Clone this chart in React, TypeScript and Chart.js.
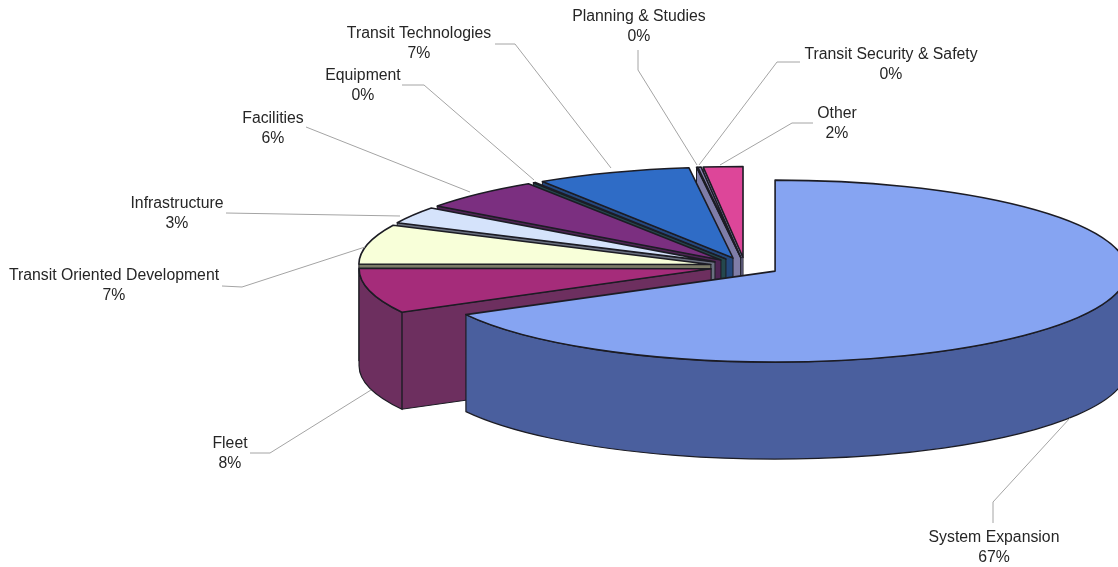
import React, { useEffect, useRef } from "react";
import { Chart, registerables } from "chart.js";

Chart.register(...registerables);

// Budget shares, clockwise from twelve o'clock.
const categories = [
  "System Expansion",
  "Fleet",
  "Transit Oriented Development",
  "Infrastructure",
  "Facilities",
  "Equipment",
  "Transit Technologies",
  "Planning & Studies",
  "Transit Security & Safety",
  "Other",
];
const shares = [67, 8, 7, 3, 5.7, 0.1, 7.1, 0.05, 0.15, 1.8];
const percentLabels = ["67%", "8%", "7%", "3%", "6%", "0%", "7%", "0%", "0%", "2%"];

const topColors = [
  "#86a4f2", "#a52c7a", "#f8ffd9", "#d5e3fb", "#7b2f80",
  "#2f6f78", "#2f6cc6", "#7f7da8", "#8b88b8", "#dd4699",
];
const sideColors = [
  "#4a5f9e", "#6d2f5f", "#7c7c68", "#6a7080", "#4f2555",
  "#24484e", "#24487e", "#7f7da8", "#8b88b8", "#8b88b8",
];

// Label centres and the leader polyline of each slice.
const labelCentres: [number, number][] = [
  [994, 538], [230, 444], [114, 276], [177, 204], [273, 119],
  [363, 76], [419, 34], [639, 17], [891, 55], [837, 114],
];
const leaders: [number, number][][] = [
  [[1070, 418], [993, 502], [993, 523]],
  [[371, 390], [270, 453], [250, 453]],
  [[365, 247], [242, 287], [222, 286]],
  [[400, 216], [226, 213]],
  [[470, 192], [306, 127]],
  [[534, 180], [424, 85], [402, 85]],
  [[611, 168], [515, 44], [495, 44]],
  [[697, 165], [638, 70], [638, 50]],
  [[699, 165], [777, 62], [800, 62]],
  [[720, 165], [792, 123], [813, 123]],
];

const PIE_X = 745;
const PIE_Y = 266.5;
const RADIUS = 352;
const TILT = 0.2585;
const EXPLODE = 35;
const DEPTH = 97;
const OUTLINE = "#1c1c24";
const FONT = '15.8px "Liberation Sans", Arial, sans-serif';

const apexOf = (arc: any) => {
  const mid = (arc.startAngle + arc.endAngle) / 2;
  return {
    x: PIE_X + Math.cos(mid) * EXPLODE,
    y: PIE_Y + Math.sin(mid) * EXPLODE * TILT,
  };
};

const rimPoint = (apex: { x: number; y: number }, angle: number) => ({
  x: apex.x + Math.cos(angle) * RADIUS,
  y: apex.y + Math.sin(angle) * RADIUS * TILT,
});

function drawCutFace(ctx: CanvasRenderingContext2D, apex: any, angle: number, fill: string) {
  const p = rimPoint(apex, angle);
  ctx.beginPath();
  ctx.moveTo(apex.x, apex.y);
  ctx.lineTo(p.x, p.y);
  ctx.lineTo(p.x, p.y + DEPTH);
  ctx.lineTo(apex.x, apex.y + DEPTH);
  ctx.closePath();
  ctx.fillStyle = fill;
  ctx.fill();
  ctx.lineWidth = 1;
  ctx.strokeStyle = OUTLINE;
  ctx.stroke();
}

function drawRimWall(ctx: CanvasRenderingContext2D, apex: any, arc: any, fill: string) {
  const from = Math.max(arc.startAngle, 0);
  const to = Math.min(arc.endAngle, Math.PI);
  if (from >= to) return;
  ctx.beginPath();
  ctx.ellipse(apex.x, apex.y, RADIUS, RADIUS * TILT, 0, from, to);
  ctx.ellipse(apex.x, apex.y + DEPTH, RADIUS, RADIUS * TILT, 0, to, from, true);
  ctx.closePath();
  ctx.fillStyle = fill;
  ctx.fill();
  ctx.lineWidth = 1.2;
  ctx.strokeStyle = OUTLINE;
  ctx.stroke();
}

// Extrudes the slices downward, then paints their squashed tops with the arc elements.
const tiltedPie = {
  id: "tiltedPie",
  beforeDatasetDraw(chart: any) {
    const { ctx } = chart;
    const arcs = chart.getDatasetMeta(0).data;
    ctx.save();
    for (let i = arcs.length - 1; i >= 0; i--) {
      const arc = arcs[i];
      const apex = apexOf(arc);
      if (i > 0) drawCutFace(ctx, apex, arc.startAngle, sideColors[i]);
      drawRimWall(ctx, apex, arc, sideColors[i]);
    }
    arcs.forEach((arc: any) => {
      const apex = apexOf(arc);
      ctx.save();
      ctx.translate(apex.x, apex.y);
      ctx.scale(1, TILT);
      ctx.translate(-arc.x, -arc.y);
      arc.draw(ctx);
      ctx.restore();
      ctx.beginPath();
      ctx.moveTo(apex.x, apex.y);
      ctx.ellipse(apex.x, apex.y, RADIUS, RADIUS * TILT, 0, arc.startAngle, arc.endAngle);
      ctx.closePath();
      ctx.lineWidth = 1.6;
      ctx.lineJoin = "round";
      ctx.strokeStyle = OUTLINE;
      ctx.stroke();
    });
    ctx.restore();
    return false;
  },
  afterDraw(chart: any) {
    const { ctx } = chart;
    ctx.save();
    ctx.strokeStyle = "#a4a4a4";
    ctx.lineWidth = 1;
    leaders.forEach((line) => {
      ctx.beginPath();
      line.forEach(([x, y], i) => (i ? ctx.lineTo(x, y) : ctx.moveTo(x, y)));
      ctx.stroke();
    });
    ctx.fillStyle = "#262626";
    ctx.font = FONT;
    ctx.textAlign = "center";
    ctx.textBaseline = "middle";
    categories.forEach((name, i) => {
      const [x, y] = labelCentres[i];
      ctx.fillText(name, x, y);
      ctx.fillText(percentLabels[i], x, y + 20);
    });
    ctx.restore();
  },
};

export default function App() {
  const canvasRef = useRef<HTMLCanvasElement>(null);

  useEffect(() => {
    const chart = new Chart(canvasRef.current!, {
      type: "pie",
      data: {
        labels: categories,
        datasets: [
          {
            data: shares,
            backgroundColor: topColors,
            borderWidth: 0,
            radius: RADIUS,
            clip: false,
          } as any,
        ],
      },
      options: {
        responsive: false,
        animation: false,
        events: [],
        plugins: { legend: { display: false }, tooltip: { enabled: false } },
      },
      plugins: [tiltedPie],
    });
    return () => chart.destroy();
  }, []);

  return (
    <canvas
      ref={canvasRef}
      width={1118}
      height={567}
      style={{ position: "absolute", left: 0, top: 0, background: "#fff" }}
    />
  );
}
